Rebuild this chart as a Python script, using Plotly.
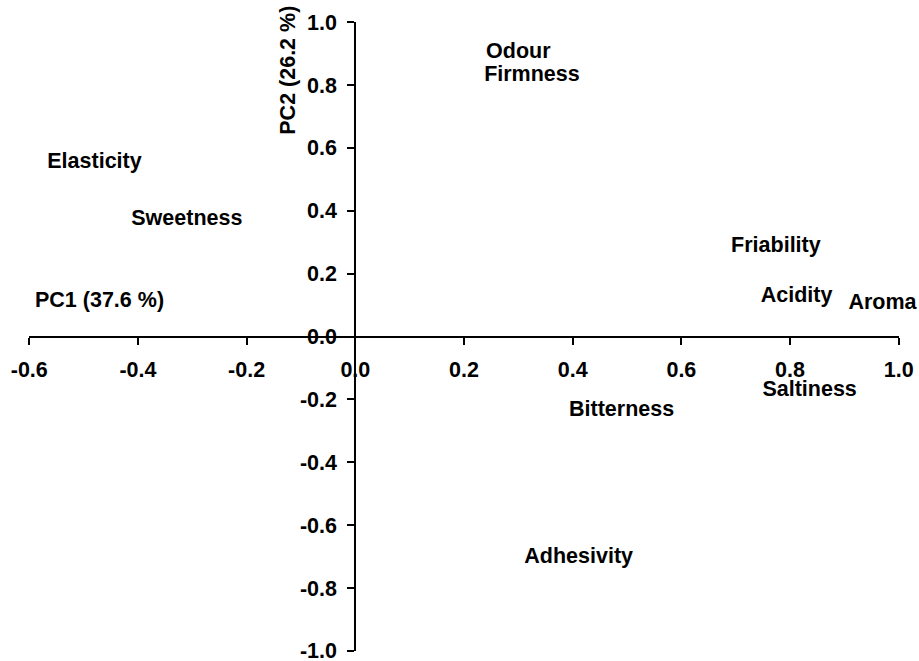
import plotly.graph_objects as go

attributes = ["Elasticity", "Sweetness", "Odour", "Firmness", "Friability",
              "Acidity", "Aroma", "Saltiness", "Bitterness", "Adhesivity"]
pc1 = [-0.48, -0.31, 0.30, 0.325, 0.774, 0.812, 0.97, 0.836, 0.49, 0.411]
pc2 = [0.552, 0.372, 0.903, 0.830, 0.285, 0.127, 0.103, -0.172, -0.235, -0.704]

x_ticks = [-0.6, -0.4, -0.2, 0.0, 0.2, 0.4, 0.6, 0.8, 1.0]
y_ticks = [-1.0, -0.8, -0.6, -0.4, -0.2, 0.0, 0.2, 0.4, 0.6, 0.8, 1.0]
x_title = "PC1 (37.6 %)"
y_title = "PC2 (26.2 %)"

FONT = "Liberation Sans, Arial, sans-serif"
FS = 21.5

fig = go.Figure()
fig.add_trace(go.Scatter(
    x=pc1, y=pc2, mode="text", text=attributes,
    textposition="middle center",
    textfont=dict(family=FONT, size=FS, color="black", weight="bold"),
    cliponaxis=False, hoverinfo="skip", showlegend=False,
))

axis_common = dict(
    showgrid=False, zeroline=False, showline=True, linecolor="black",
    linewidth=2, ticks="outside", ticklen=7, tickwidth=2, tickcolor="black",
    tickfont=dict(family=FONT, size=FS, color="black", weight="bold"),
    automargin=False, anchor="free", ticklabeloverflow="allow",
)

fig.update_layout(
    width=919, height=661,
    margin=dict(l=29, r=20, t=22, b=10),
    paper_bgcolor="white", plot_bgcolor="white",
    xaxis=dict(range=[-0.6005, 1.0005], tickvals=x_ticks,
               ticktext=[f"{v:.1f}" for v in x_ticks],
               position=0.5, ticklabelstandoff=7, **axis_common),
    yaxis=dict(range=[-1.0005, 1.0005], tickvals=y_ticks,
               ticktext=[f"{v:.1f}" for v in y_ticks],
               position=0.375, ticklabelstandoff=6, **axis_common),
    annotations=[
        dict(x=-0.4706, y=0.116, xref="x", yref="y", text=x_title,
             showarrow=False,
             font=dict(family=FONT, size=FS, color="black", weight="bold")),
        dict(x=-0.123, y=0.847, xref="x", yref="y", text=y_title,
             showarrow=False, textangle=-90,
             font=dict(family=FONT, size=FS, color="black", weight="bold")),
    ],
)

fig.write_html("out.html")
